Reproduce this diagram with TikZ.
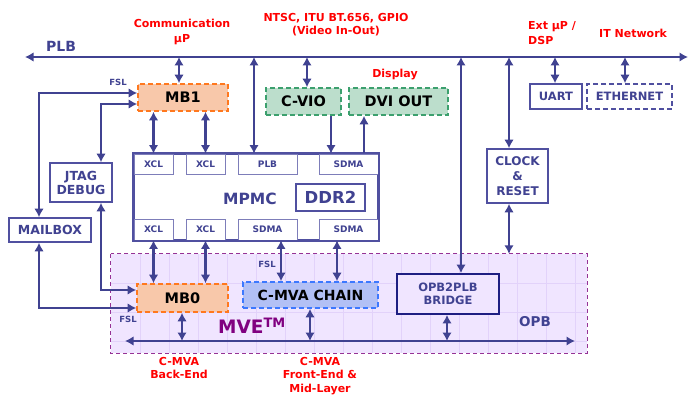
\documentclass[tikz,border=0pt]{standalone}
\usepackage{fontspec}
\setmainfont{DejaVu Sans}
\usetikzlibrary{arrows.meta}
\definecolor{navy}{RGB}{64,66,145}
\definecolor{bordnavy}{RGB}{80,80,160}
\definecolor{subnavy}{RGB}{125,125,185}
\definecolor{darknavy}{RGB}{30,30,130}
\definecolor{redlbl}{RGB}{255,0,0}
\definecolor{orfill}{RGB}{248,200,170}
\definecolor{ordraw}{RGB}{255,120,30}
\definecolor{grfill}{RGB}{188,222,204}
\definecolor{grdraw}{RGB}{60,160,110}
\definecolor{blfill}{RGB}{178,192,245}
\definecolor{bldraw}{RGB}{60,120,255}
\definecolor{mvefill}{RGB}{240,229,255}
\definecolor{mvegrid}{RGB}{226,210,250}
\definecolor{mvedraw}{RGB}{150,50,150}
\definecolor{mvetext}{RGB}{128,0,128}
\newcommand{\fsz}[2]{\fontsize{#1}{#2}\selectfont}
\tikzset{
  every node/.style={font=\bfseries, inner sep=0pt, align=center},
  dsh/.style={dash pattern=on 5pt off 3pt},
  box/.style={draw=bordnavy, line width=1.6pt, fill=white, text=navy},
  subbox/.style={draw=subnavy, line width=0.9pt, fill=white, text=navy, font=\bfseries\fsz{9}{11}},
  orbox/.style={draw=ordraw, dsh, line width=1.6pt, fill=orfill, text=black, font=\bfseries\fsz{14.5}{16}},
  grbox/.style={draw=grdraw, dsh, line width=1.6pt, fill=grfill, text=black, font=\bfseries\fsz{14.5}{16}},
  blbox/.style={draw=bldraw, dsh, line width=1.6pt, fill=blfill, text=black, font=\bfseries\fsz{14}{16}},
  redtxt/.style={text=redlbl, font=\bfseries\fsz{11}{15}},
  redlow/.style={text=redlbl, font=\bfseries\fsz{11}{13.5}},
  fsltxt/.style={text=navy, font=\bfseries\fsz{8.5}{10}},
  dbl/.style={draw=navy, line width=2.7pt, {Latex[length=8.5pt,width=9.5pt]}-{Latex[length=8.5pt,width=9.5pt]}},
  sgl/.style={draw=navy, line width=2.7pt, -{Latex[length=8.5pt,width=9.5pt]}}
}
\begin{document}
\begin{tikzpicture}[x=1pt,y=-1pt]
\useasboundingbox (0,0) rectangle (689,396);
\fill[white] (0,0) rectangle (689,396);

% MVE region
\node[fill=mvefill, minimum width=476pt, minimum height=99pt] (mve) at (349,303.5) {};
\begin{scope}
  \clip (111,254) rectangle (587,353);
  \foreach \x in {140,169,...,586} \draw[mvegrid, line width=0.8pt] (\x,254) -- (\x,353);
  \foreach \y in {283,312,341} \draw[mvegrid, line width=0.8pt] (111,\y) -- (587,\y);
\end{scope}
\draw[mvedraw, dash pattern=on 4pt off 3pt, line width=1.2pt] (mve.north west) rectangle (mve.south east);

% top boxes
\node[orbox, minimum width=90pt, minimum height=27pt] (mb1) at (183,97.5) {MB1};
\node[grbox, minimum width=75pt, minimum height=27pt] (cvio) at (303.5,101.5) {C-VIO};
\node[grbox, minimum width=99pt, minimum height=27pt] (dvi) at (398.5,101.5) {DVI OUT};
\node[box, minimum width=52pt, minimum height=25pt, font=\bfseries\fsz{11.5}{13}] (uart) at (556,96.5) {UART};
\node[box, dsh, minimum width=85pt, minimum height=25pt, font=\bfseries\fsz{11.5}{13}] (eth) at (629.5,96.5) {ETHERNET};

% MPMC
\node[box, minimum width=244pt, minimum height=86pt] (mpmc) at (256,197) {};
\node[subbox, minimum width=39pt, minimum height=20pt] (xclt1) at (153.5,164) {XCL};
\node[subbox, minimum width=39pt, minimum height=20pt] (xclt2) at (205.5,164) {XCL};
\node[subbox, minimum width=59pt, minimum height=20pt] (plbp) at (267.5,164) {PLB};
\node[subbox, minimum width=59pt, minimum height=20pt] (sdmat) at (348.5,164) {SDMA};
\node[subbox, minimum width=39pt, minimum height=21pt] (xclb1) at (153.5,229.5) {XCL};
\node[subbox, minimum width=39pt, minimum height=21pt] (xclb2) at (205.5,229.5) {XCL};
\node[subbox, minimum width=59pt, minimum height=21pt] (sdmab1) at (267.5,229.5) {SDMA};
\node[subbox, minimum width=59pt, minimum height=21pt] (sdmab2) at (348.5,229.5) {SDMA};
\draw[draw=bordnavy, line width=1.6pt] (mpmc.north west) rectangle (mpmc.south east);
\node[text=navy, font=\bfseries\fsz{15.5}{17}] (mpmclbl) at (250,199) {MPMC};
\node[box, minimum width=69pt, minimum height=27pt, font=\bfseries\fsz{16.5}{18}] (ddr2) at (330.5,197.5) {DDR2};

% left boxes
\node[box, minimum width=62pt, minimum height=39pt, font=\bfseries\fsz{12.5}{14}] (jtag) at (81,182.5) {JTAG\\DEBUG};
\node[box, minimum width=82pt, minimum height=24pt, font=\bfseries\fsz{12.5}{14}] (mailbox) at (50,230) {MAILBOX};
\node[box, minimum width=61pt, minimum height=54pt, font=\bfseries\fsz{12}{15}] (clock) at (517.5,176) {CLOCK\\\&\\RESET};

% MVE inner boxes
\node[orbox, minimum width=91pt, minimum height=28pt] (mb0) at (182.5,298) {MB0};
\node[blbox, minimum width=135pt, minimum height=26pt] (cmva) at (310.5,295) {C-MVA CHAIN};
\node[draw=darknavy, line width=1.8pt, fill=mvefill, text=navy, minimum width=102pt, minimum height=40pt, font=\bfseries\fsz{11.5}{13}] (bridge) at (448,294) {OPB2PLB\\BRIDGE};

% buses
\coordinate (plbL) at (25,57);
\coordinate (plbR) at (688,57);
\coordinate (opbL) at (125,341);
\coordinate (opbR) at (575,341);
\draw[dbl] (plbL) -- (plbR);
\draw[dbl] (opbL) -- (opbR);

% PLB taps
\coordinate (tMB1) at (179,57);
\coordinate (tPLB) at (254,57);
\coordinate (tCVIO) at (307,57);
\coordinate (tBR) at (461,57);
\coordinate (tCLK) at (509,57);
\coordinate (tUART) at (555,57);
\coordinate (tETH) at (625,57);
\draw[dbl] (tMB1) -- (tMB1 |- mb1.north);
\draw[dbl] (tPLB) -- (tPLB |- plbp.north);
\draw[dbl] (tCVIO) -- (tCVIO |- cvio.north);
\draw[dbl] (tBR) -- (tBR |- bridge.north);
\draw[dbl] (tCLK) -- (tCLK |- clock.north);
\draw[dbl] (tCLK |- clock.south) -- (tCLK |- mve.north);
\draw[dbl] (tUART) -- (tUART |- uart.north);
\draw[dbl] (tETH) -- (tETH |- eth.north);

% MB1 to MPMC
\draw[dbl] (xclt1 |- mb1.south) -- (xclt1.north);
\draw[dbl] (xclt2 |- mb1.south) -- (xclt2.north);
\coordinate (cv) at (331,0);
\coordinate (dv) at (364,0);
\draw[sgl] (cv |- cvio.south) -- (cv |- sdmat.north);
\draw[sgl] (dv |- mpmc.north) -- (dv |- dvi.south);

% FSL links
\coordinate (fA) at (39,93);
\coordinate (fB) at (101,104);
\coordinate (fC) at (39,308);
\coordinate (fD) at (101,290);
\draw[dbl] (fA -| mb1.west) -- (fA) -- (fA |- mailbox.north);
\draw[dbl] (fB -| mb1.west) -- (fB) -- (fB |- jtag.north);
\draw[dbl] (fC |- mailbox.south) -- (fC) -- (fC -| mb0.west);
\draw[dbl] (fD |- jtag.south) -- (fD) -- (fD -| mb0.west);

% MPMC bottom to MVE
\draw[dbl] (xclb1.south) -- (xclb1 |- mb0.north);
\draw[dbl] (xclb2.south) -- (xclb2 |- mb0.north);
\coordinate (sA) at (281,0);
\coordinate (sB) at (337,0);
\draw[dbl] (sA |- sdmab1.south) -- (sA |- cmva.north);
\draw[dbl] (sB |- sdmab2.south) -- (sB |- cmva.north);

% to OPB
\coordinate (oA) at (182,0);
\coordinate (oB) at (310,0);
\coordinate (oC) at (447,0);
\draw[dbl] (oA |- mb0.south) -- (oA |- opbL);
\draw[dbl] (oB |- cmva.south) -- (oB |- opbL);
\draw[dbl] (oC |- bridge.south) -- (oC |- opbL);

% labels
\node[text=navy, font=\bfseries\fsz{14}{16}] (plblbl) at (61,46) {PLB};
\node[text=navy, font=\bfseries\fsz{13.5}{16}] (opblbl) at (535,322) {OPB};
\node[text=mvetext, font=\bfseries\fsz{18.5}{20}] (mvelbl) at (252,326) {MVE\textsuperscript{TM}};
\node[fsltxt] (fsl1) at (118,82) {FSL};
\node[fsltxt] (fsl2) at (267,264) {FSL};
\node[fsltxt] (fsl3) at (128,319) {FSL};
\node[redtxt] (comm) at (182,31.5) {Communication\\µP};
\node[redtxt, font=\bfseries\fsz{11}{13}] (ntsc) at (336,25) {NTSC, ITU BT.656, GPIO\\(Video In-Out)};
\node[redtxt, anchor=west, align=left] (ext) at (528,33) {Ext µP /\\DSP};
\node[redtxt, anchor=west] (itnet) at (599,33) {IT Network};
\node[redtxt] (disp) at (395,75) {Display};
\node[redlow, anchor=north] (back) at (179,357) {C-MVA\\Back-End};
\node[redlow, anchor=north] (front) at (320,357) {C-MVA\\Front-End \&\\Mid-Layer};
\end{tikzpicture}
\end{document}
